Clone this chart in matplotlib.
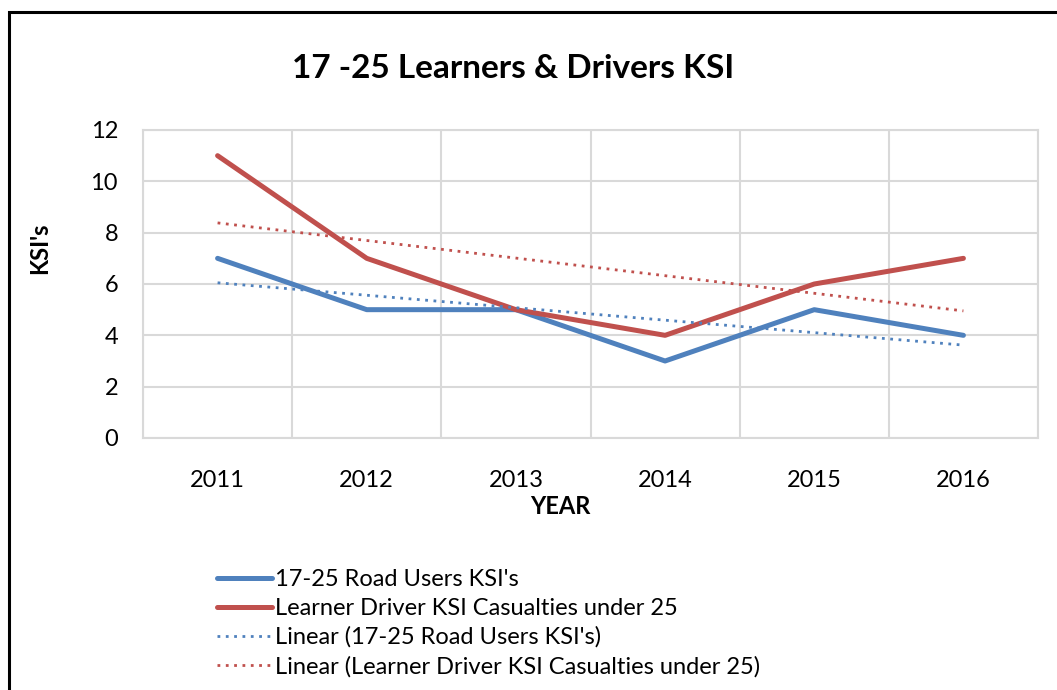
import numpy as np
import matplotlib.pyplot as plt
from matplotlib.patches import Rectangle

years = ["2011", "2012", "2013", "2014", "2015", "2016"]
road_users = [7, 5, 5, 3, 5, 4]
learners = [11, 7, 5, 4, 6, 7]

blue = "#4F81BD"
red = "#C0504D"

plt.rcParams['font.family'] = ['Lato', 'DejaVu Sans']

fig = plt.figure(figsize=(10.57, 6.9), dpi=100)
ax = fig.add_axes([143 / 1057, 1 - 438 / 690, (1038 - 143) / 1057, (438 - 130) / 690])

x = np.arange(len(years))

# linear trend lines, like the spreadsheet does
def trend(vals):
    k, b = np.polyfit(x, vals, 1)
    return k * x + b

ax.plot(x, road_users, color=blue, lw=3.6, solid_capstyle='round',
        label="17-25 Road Users KSI's")
ax.plot(x, learners, color=red, lw=3.6, solid_capstyle='round',
        label="Learner Driver KSI Casualties under 25")
ax.plot(x, trend(road_users), color=blue, lw=2, ls=(0, (1, 2)),
        label="Linear (17-25 Road Users KSI's)")
ax.plot(x, trend(learners), color=red, lw=2, ls=(0, (1, 2)),
        label="Linear (Learner Driver KSI Casualties under 25)")

ax.set_xlim(-0.5, 5.5)
ax.set_ylim(0, 12)
ax.set_yticks(range(0, 13, 2))
ax.set_xticks(x)
ax.set_xticklabels(years)
ax.set_xticks(np.arange(-0.5, 6, 1), minor=True)
ax.grid(False)
ax.grid(True, which='minor', axis='x', color='#D9D9D9', lw=1.5)
ax.grid(True, which='major', axis='y', color='#D9D9D9', lw=1.5)
ax.set_axisbelow(True)
for s in ax.spines.values():
    s.set_color('#D9D9D9')
    s.set_linewidth(1.5)
ax.tick_params(which='both', length=0, labelsize=17, colors='black')
ax.tick_params(axis='x', pad=23)
ax.tick_params(axis='y', pad=18)

fig.text(513 / 1057, 1 - 68 / 690, "17 -25 Learners & Drivers KSI", ha='center', va='center',
         fontsize=24, fontweight='bold')
fig.text(40 / 1057, 1 - 248 / 690, "KSI's", ha='center', va='center', rotation=90,
         fontsize=17, fontweight='bold')
fig.text(560 / 1057, 1 - 506 / 690, "YEAR", ha='center', va='center',
         fontsize=17, fontweight='bold')

fig.legend(loc='upper left', bbox_to_anchor=(208 / 1057, 1 - 560 / 690), frameon=False,
           fontsize=17, handlelength=2.3, handletextpad=0.15, labelspacing=0.32,
           borderaxespad=0)

fig.add_artist(Rectangle((9 / 1057, -0.1), 1.2, 1 - 12 / 690 + 0.1, transform=fig.transFigure,
                         fill=False, edgecolor='black', lw=2.2))

fig.savefig("out.png", dpi=100)
